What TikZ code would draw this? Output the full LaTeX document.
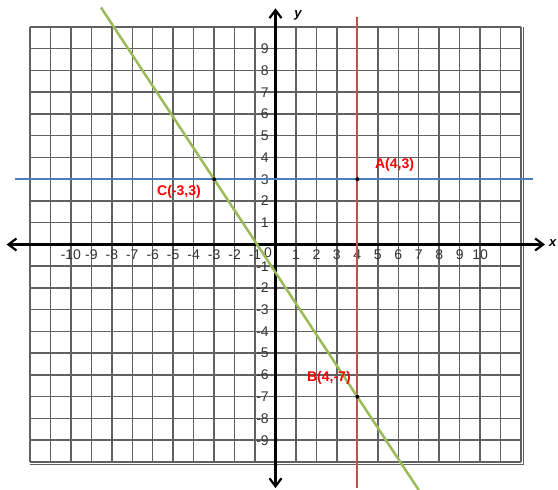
\documentclass[tikz,border=0pt]{standalone}
\usepackage{fontspec}
\setmainfont{Liberation Sans}
\usetikzlibrary{arrows.meta,calc}
\definecolor{lineblue}{HTML}{4A7EBB}
\definecolor{linered}{HTML}{C0504D}
\definecolor{linegreen}{HTML}{9BBB59}
\definecolor{labelred}{HTML}{FF0000}

\begin{document}
\begin{tikzpicture}[x=20.46bp, y=21.75bp,
  gridline/.style={black!62, line width=1.5bp},
  axisline/.style={line width=2.2bp, {Straight Barb[length=8bp,width=12bp]}-{Straight Barb[length=8bp,width=12bp]}},
  ticklabel/.style={font=\fontsize{14bp}{16bp}\selectfont, text=black!80, inner sep=0pt},
  ptlabel/.style={font=\fontsize{14bp}{16bp}\selectfont\bfseries, text=labelred, inner sep=0pt},
  ptdot/.style={circle, fill=black, inner sep=0pt, minimum size=4bp}]
  \useasboundingbox (-13.465,-11.287) rectangle (13.807,11.241);
  % grid
  \foreach \gx in {-12,...,12}
    \draw[gridline] (\gx,-10) -- (\gx,10);
  \foreach \gy in {-10,...,10}
    \draw[gridline] (-12,\gy) -- (12,\gy);
  \draw[gridline] (-12,-10.12) -- (12.12,-10.12) -- (12.12,10);
  % axes
  \draw[axisline] (-13.14,0) -- (13.17,0);
  \draw[axisline] (0,-11.2) -- (0,10.86);
  \node[font=\fontsize{13bp}{15bp}\selectfont\bfseries\itshape, inner sep=0pt] (xlab) at (13.55,0.07) {x};
  \node[font=\fontsize{13bp}{15bp}\selectfont\bfseries\itshape] (ylab) at (1.1,10.55) {y};
  % tick labels
  \foreach \n in {1,...,10} {
    \node[ticklabel] (xp\n) at (\n,-0.46) {\n};
    \node[ticklabel] (xn\n) at (-\n,-0.46) {-\n};
  }
  \foreach \n in {1,...,9} {
    \node[ticklabel, anchor=east] (yp\n) at (-0.32,\n) {\n};
    \node[ticklabel, anchor=east] (yn\n) at (-0.32,-\n) {-\n};
  }
  \node[ticklabel] (zero) at (-0.37,-0.39) {0};
  % the three lines
  \coordinate (A) at (4,3);
  \coordinate (B) at (4,-7);
  \coordinate (C) at (-3,3);
  \draw[lineblue, line width=2bp] (-12.73,3) -- (12.59,3);
  \draw[draw=linered, line width=2bp] (4,10.46) -- (4,-11.2);
  \draw[linegreen, line width=2.5bp] ($(C)!-0.79!(B)$) -- ($(C)!1.43!(B)$);
  % points
  \node[ptdot] (dotA) at (A) {};
  \node[ptdot] (dotB) at (B) {};
  \node[ptdot] (dotC) at (C) {};
  \node[ptlabel] (labA) at (5.82,3.66) {A(4,3)};
  \node[ptlabel] (labB) at (2.61,-6.12) {B(4,-7)};
  \node[ptlabel] (labC) at (-4.72,2.43) {C(-3,3)};
\end{tikzpicture}
\end{document}
